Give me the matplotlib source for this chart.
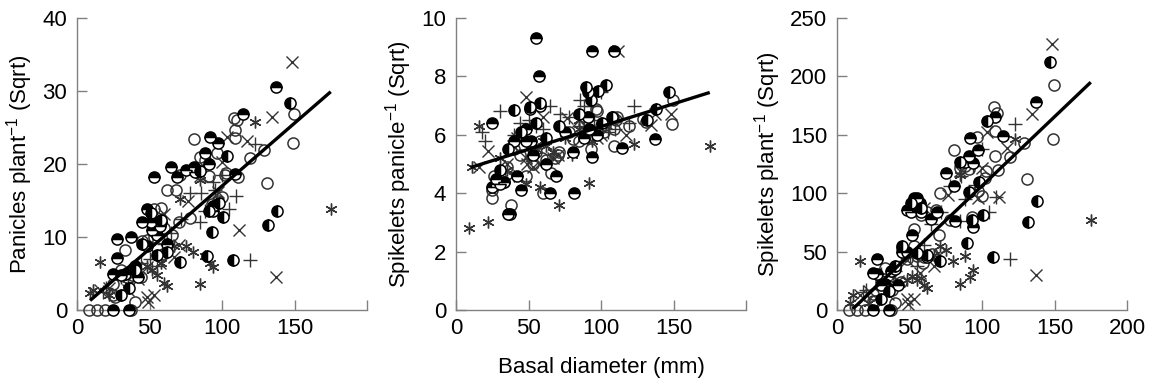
import numpy as np
import matplotlib
matplotlib.use("Agg")
import matplotlib.pyplot as plt

plt.rcParams['font.family'] = ['Liberation Sans', 'DejaVu Sans']
plt.rcParams['mathtext.fontset'] = 'custom'
plt.rcParams['mathtext.rm'] = 'Liberation Sans'
plt.rcParams['mathtext.it'] = 'Liberation Sans'
plt.rcParams['mathtext.default'] = 'regular'
nan = np.nan

# ---- data: basal diameter (x), panicles/plant (y1), spikelets/panicle (y2), spikelets/plant (y3)
open_x  = [149.5, 149, 131, 108, 110, 109, 109, 129, 119.5, 111, 102, 96.5, 85, 81, 71, 62, 91, 93, 78, 53,
           65.5, 33, 48, 53, 40, 26.4, 8, 13.8, 19.5, 37, 59, 60, 30, 44, 97, 58, 25, 25, 38, 88, 100, 35, 55, 70, 45, 103, 68]
open_y1 = [26.8, 22.9, 17.4, 26.3, 26.0, 24.7, 23.5, 21.9, 20.8, 18.2, 18.5, 21.5, 21.0, 23.4, 18.5, 16.4, 18.3, 14.5, 12.6, 13.8,
           10.3, 8.2, 9.6, 10.0, 1.1, 1.8, 0, 0, 0, 0, 7.7, 11.2, 5.5, 4.5, 15.0, 14.0, 2.0, 3.5, 4.8, 20.5, 15.5, 5.2, 8.5, 12.0, 9.5, 18.8, 16.5]
open_y2 = [7.2, 6.38, 6.45, 6.6, 6.5, 6.2, 5.6, 6.55, 6.3, 6.6, 6.1, 6.9, 5.8, 5.85, 5.4, 5.15, 6.6, 5.5, 6.1, 5.0,
           4.7, 4.4, 4.6, 5.5, 5.5, 4.6, nan, nan, nan, nan, 5.2, 4.0, 4.6, 5.3, 6.8, 5.8, 3.83, 4.1, 3.6, 6.0, 6.3, 4.9, 5.4, 5.3, 5.6, 6.35, 5.2]
open_y3 = [193, 146, 112, 174, 169, 153, 132, 143, 131, 120, 113, 148, 122, 137, 100, 84, 121, 80, 77, 69,
           48, 36, 44, 55, 6, 8, 0, 0, 0, 0, 40, 45, 25, 24, 102, 81, 8, 14, 17, 123, 98, 25, 46, 64, 53, 119, 86]

top_x  = [137.5, 114.5, 97.5, 92, 88, 81, 75, 81.5, 69, 65, 91, 53, 48, 51, 58, 45, 27.5, 37.5, 52, 48,
          27.5, 25, 25, 35.6, 55, 57, 94, 109, 94, 40, 33, 30, 62, 42]
top_y1 = [30.5, 26.8, 22.9, 23.7, 21.5, 19.6, 19.2, 18.9, 18.2, 19.6, 20.0, 18.2, 13.8, 12.1, 12.0, 12.1, 9.7, 10.0, 11.0, 8.7,
          7.1, 5.0, 0.0, 0.0, 10.3, 11.5, 14.2, 18.6, 13.5, 6.0, 5.0, 4.8, 9.0, 4.5]
top_y2 = [5.85, 5.55, 6.0, 6.2, 5.9, 5.4, 6.1, 4.0, 4.6, 4.0, 6.6, 5.3, 6.2, 6.9, 7.0, 4.1, 4.5, 3.3, 5.8, 5.8,
          4.3, 6.4, 4.2, 3.3, 9.3, 8.0, 8.86, 8.86, 5.25, 5.8, 4.4, 4.3, 5.0, 4.6]
top_y3 = [178, 149, 137, 147, 127, 106, 117, 76, 84, 78, 132, 96, 86, 84, 84, 50, 44, 33, 64, 50,
          31, 32, 0, 0, 96, 92, 126, 165, 71, 35, 22, 21, 45, 21]

left_x  = [147, 138, 132, 107.5, 100.5, 103.5, 98, 93, 91, 89.5, 58, 51, 40, 45, 36, 30, 55, 85, 62, 71]
left_y1 = [28.4, 13.5, 11.6, 6.8, 12.7, 21.1, 14.7, 10.7, 13.6, 7.4, 12.3, 13.3, 5.5, 9.0, 3.0, 2.0, 7.6, 19.0, 8.0, 6.6]
left_y2 = [7.45, 6.9, 6.5, 6.6, 6.4, 7.7, 7.5, 7.2, 7.45, 7.65, 7.1, 6.95, 6.85, 6.1, 5.5, 4.8, 6.4, 6.7, 5.9, 6.3]
left_y3 = [212, 93, 75, 45, 81, 162, 110, 77, 101, 57, 87, 92, 38, 55, 16.5, 9.6, 49, 127, 47, 42]

cross_x  = [148, 134.5, 137.5, 112, 117, 103.5, 100, 76.5, 60, 70.5, 49, 48, 53, 85, 48, 39, 22, 16, 66.7, 57.5, 97, 42, 35]
cross_y1 = [34.0, 26.5, 4.5, 11.0, 23.1, 23.7, 20.3, 15.0, 13.2, 8.9, 1.1, 1.8, 2.0, 18.3, 5.9, 5.0, 3.0, 2.7, 7.3, 6.4, 16.2, 4.2, 2.8]
cross_y2 = [6.7, 6.35, 6.7, 8.86, 6.0, 6.4, 6.0, 6.57, 6.6, 5.3, 5.0, 5.2, 4.9, 6.5, 7.3, 5.6, 5.43, 4.9, 5.2, 5.0, 5.9, 5.9, 5.0]
cross_y3 = [228, 168, 30, 97, 139, 152, 122, 98.5, 87, 47, 5.5, 9.4, 9.8, 119, 43, 28, 16, 13, 38, 32, 96, 25, 14]

plus_x  = [119, 123, 109.5, 105, 85.5, 95, 94, 85, 77.7, 100, 72, 60, 44, 40, 30, 20, 18, 50, 65, 88, 55]
plus_y1 = [6.9, 22.7, 15.6, 13.8, 16.0, 16.4, 17.6, 12.0, 16.0, 18.5, 12.5, 9.0, 6.5, 5.5, 4.5, 3.0, 2.5, 7.0, 10.5, 13.5, 6.0]
plus_y2 = [6.4, 7.0, 6.2, 6.1, 7.2, 6.5, 7.0, 6.3, 6.6, 7.45, 6.7, 6.2, 6.4, 6.0, 6.8, 5.8, 6.1, 6.5, 7.0, 7.0, 6.3]
plus_y3 = [44, 159, 97, 84, 115, 107, 123, 76, 106, 138, 84, 56, 42, 33, 31, 17, 15, 46, 74, 95, 38]

star_x  = [175, 123, 67, 75, 80, 88, 92, 94, 84.5, 60, 16, 9, 11, 71, 84.6, 62, 55, 52, 40, 22, 30, 48, 58, 35]
star_y1 = [13.8, 25.7, 8.7, 8.7, 8.0, 7.4, 6.5, 5.9, 3.6, 3.7, 6.6, 2.3, 2.7, 15.2, 17.8, 3.3, 4.8, 5.5, 5.0, 2.0, 4.5, 6.0, 6.5, 3.5]
star_y2 = [5.6, 5.7, 5.4, 5.9, 5.3, 6.2, 4.35, 5.8, 6.2, 5.8, 6.3, 2.8, 4.9, 3.6, 6.5, 5.6, 5.5, 5.2, 4.6, 3.0, 5.2, 4.3, 4.2, 4.8]
star_y3 = [77, 146, 47, 51, 42, 46, 28, 34, 22, 21.5, 42, 6.4, 13, 55, 116, 18.5, 26, 29, 23, 6, 23, 26, 27, 17]

# regression lines (end points)
fit_x1 = [9, 175];  fit_y1 = [1.3, 29.9]
fit_x2 = [10, 175]; fit_y2 = [4.88, 7.45]
fit_x3 = [11, 175]; fit_y3 = [1.0, 195]

x_ticks = [0, 50, 100, 150, 200]
ylabels = ['Panicles plant$^{-1}$ (Sqrt)', 'Spikelets panicle$^{-1}$ (Sqrt)', 'Spikelets plant$^{-1}$ (Sqrt)']
ylims = [(0, 40), (0, 10), (0, 250)]
yticks = [[0, 10, 20, 30, 40], [0, 2, 4, 6, 8, 10], [0, 50, 100, 150, 200, 250]]

W, H = 1151, 384
fig = plt.figure(figsize=(W / 100, H / 100), dpi=100)
lefts = [77, 456, 837]
axw = 290
bottom_px, top_px = 310, 18

groups = [
    (open_x, [open_y1, open_y2, open_y3], dict(marker='o', mfc='none', mec='#333333', mew=1.1, ms=8)),
    (plus_x, [plus_y1, plus_y2, plus_y3], dict(marker='+', color='#333333', mew=1.0, ms=10)),
    (cross_x, [cross_y1, cross_y2, cross_y3], dict(marker='x', color='#333333', mew=1.0, ms=8.5)),
    (star_x, [star_y1, star_y2, star_y3], dict(marker=(6, 2, 0), color='#333333', mew=1.0, ms=8.5)),
    (top_x, [top_y1, top_y2, top_y3], dict(marker='o', fillstyle='top', mfc='black', mfcalt='white', mec='black', mew=1.1, ms=8)),
    (left_x, [left_y1, left_y2, left_y3], dict(marker='o', fillstyle='left', mfc='black', mfcalt='white', mec='black', mew=1.1, ms=8)),
]
fits = [(fit_x1, fit_y1), (fit_x2, fit_y2), (fit_x3, fit_y3)]

for i in range(3):
    ax = fig.add_axes([lefts[i] / W, 1 - bottom_px / H, axw / W, (bottom_px - top_px) / H])
    for gx, gys, style in groups:
        ax.plot(gx, gys[i], linestyle='none', clip_on=False, zorder=3, **style)
    ax.plot(fits[i][0], fits[i][1], color='black', lw=2.4, solid_capstyle='butt', zorder=4)
    ax.set_xlim(0, 200)
    ax.set_ylim(*ylims[i])
    ax.set_xticks(x_ticks)
    if i < 2:
        ax.set_xticklabels(['0', '50', '100', '150', ''])
    ax.set_yticks(yticks[i])
    for s in ['top', 'right']:
        ax.spines[s].set_visible(False)
    for s in ['left', 'bottom']:
        ax.spines[s].set_color('#808080')
        ax.spines[s].set_linewidth(1.0)
    ax.tick_params(direction='in', length=7, width=1.0, color='#808080', labelsize=16)
    ax.tick_params(axis='y', pad=7)
    ax.tick_params(axis='x', pad=6)
    ax.set_ylabel(ylabels[i], fontsize=16, labelpad=5)

fig.text(601 / W, 1 - 368 / H, 'Basal diameter (mm)', ha='center', va='center', fontsize=16)
fig.savefig('out.png', dpi=100)
